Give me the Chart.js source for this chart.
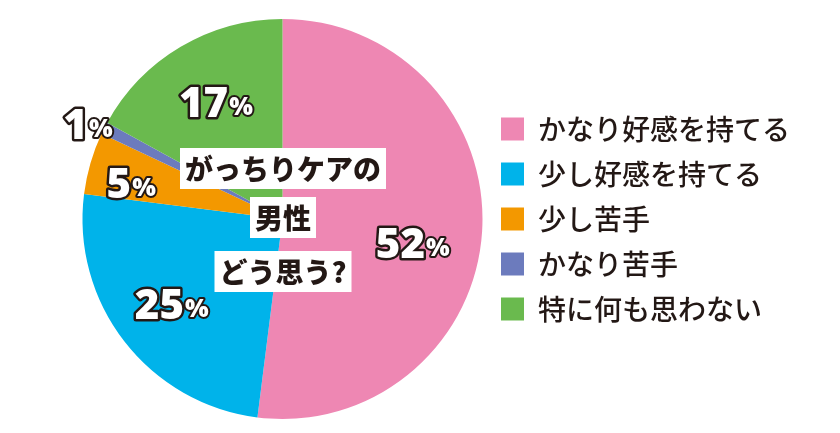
<!DOCTYPE html>
<html>
<head>
<meta charset="utf-8">
<script src="https://cdn.jsdelivr.net/npm/chart.js@4"></script>
<style>
  html, body { margin: 0; padding: 0; background: #fff; }
  #wrap { width: 840px; height: 433px; position: relative; }
</style>
</head>
<body>
<div id="wrap"><canvas id="kekka"></canvas></div>
<script>
const kotae = ["かなり好感を持てる", "少し好感を持てる", "少し苦手", "かなり苦手", "特に何も思わない"];
const wariai = [52, 25, 5, 1, 17];
const iro = ["#EE87B3", "#00B3EA", "#F39800", "#6C7BBD", "#6ABA4E"];
const midashi = ["がっちりケアの", "男性", "どう思う?"];

// label placement: distance (part of radius) and small angle nudge (degrees)
const labelKyori = [0.66, 0.70, 0.78, 1.085, 0.675];
const labelZure = [6.9, 0.4, -2.8, -1, 0.8];

const pctLabels = {
  id: "pctLabels",
  afterDatasetsDraw(chart) {
    const ctx = chart.ctx;
    const meta = chart.getDatasetMeta(0);
    const bigFont = "900 42px 'Noto Sans', 'DejaVu Sans', sans-serif";
    const smallFont = "900 25px 'Noto Sans', 'DejaVu Sans', sans-serif";
    ctx.save();
    meta.data.forEach((arc, i) => {
      const mid = (arc.startAngle + arc.endAngle) / 2 + labelZure[i] * Math.PI / 180;
      const r = arc.outerRadius * labelKyori[i];
      const x = arc.x + Math.cos(mid) * r;
      const y = arc.y + Math.sin(mid) * r;
      const num = String(wariai[i]);
      ctx.font = bigFont;
      const wNum = ctx.measureText(num).width;
      ctx.font = smallFont;
      const wPct = ctx.measureText("%").width;
      const left = x - (wNum + wPct) / 2;
      ctx.lineJoin = "round";
      ctx.textBaseline = "alphabetic";
      ctx.textAlign = "left";
      ctx.strokeStyle = "#231815";
      ctx.fillStyle = "#fff";
      ctx.lineWidth = 5;
      ctx.font = bigFont;
      ctx.strokeText(num, left, y + 15);
      ctx.fillText(num, left, y + 15);
      ctx.font = smallFont;
      ctx.lineWidth = 4;
      ctx.strokeText("%", left + wNum + 1, y + 13);
      ctx.fillText("%", left + wNum + 1, y + 13);
    });

    // centre caption on white boxes
    const boxes = [
      { cx: 283, cy: 168 },
      { cx: 283, cy: 217 },
      { cx: 283, cy: 271 }
    ];
    ctx.font = "900 28px 'Noto Sans CJK JP', sans-serif";
    ctx.textAlign = "center";
    ctx.textBaseline = "middle";
    midashi.forEach((t, i) => {
      const w = ctx.measureText(t).width;
      const b = boxes[i];
      ctx.fillStyle = "#fff";
      ctx.fillRect(b.cx - w / 2 - 5, b.cy - 20, w + 10, 41);
      ctx.fillStyle = "#231815";
      ctx.fillText(t, b.cx, b.cy + 1);
    });
    ctx.restore();
  }
};

new Chart(document.getElementById("kekka"), {
  type: "pie",
  data: {
    labels: kotae,
    datasets: [
      {
        data: wariai,
        backgroundColor: iro,
        borderWidth: 0,
      },
    ],
  },
  options: {
    responsive: true,
    maintainAspectRatio: false,
    animation: false,
    layout: { padding: { left: 81, top: 19, bottom: 14, right: 40 } },
    plugins: {
      tooltip: { enabled: false },
      legend: {
        display: true,
        position: "right",
        align: "center",
        labels: {
          boxWidth: 23,
          boxHeight: 23,
          padding: 17,
          color: "#231815",
          font: { family: "'Noto Sans CJK JP', sans-serif", size: 28, weight: "500" },
        },
      },
    },
  },
  plugins: [pctLabels],
});
</script>
</body>
</html>
